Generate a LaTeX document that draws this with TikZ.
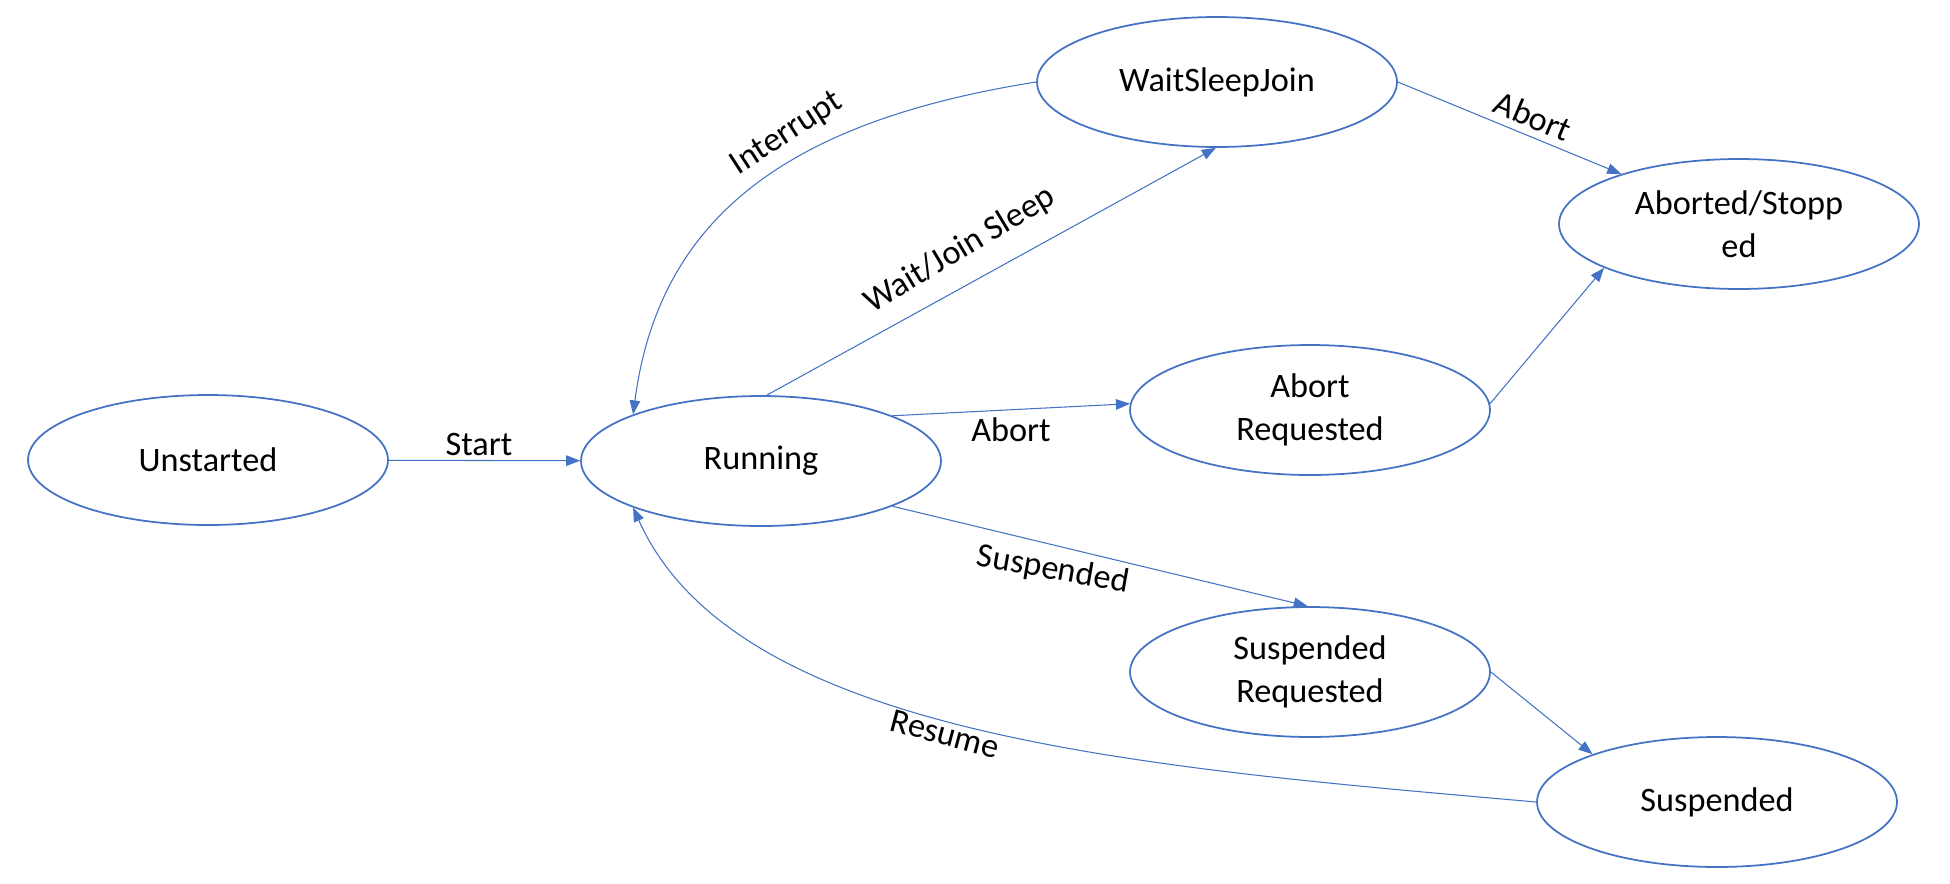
\documentclass[tikz,border=0pt]{standalone}
\usepackage{fontspec}
\setmainfont{Carlito}
\usetikzlibrary{shapes.geometric,arrows.meta}
\definecolor{stateblue}{RGB}{68,114,196}
\tikzset{
  state/.style={draw=stateblue, line width=1pt, ellipse, minimum width=7.2cm,
    minimum height=2.6cm, inner sep=0pt, align=center,
    font=\fontsize{19.5}{24.5}\selectfont},
  trans/.style={draw=stateblue, line width=0.6pt, -{Triangle[length=8pt,width=6pt]}},
  lbl/.style={font=\fontsize{19.5}{24.5}\selectfont, inner sep=0pt}
}
\begin{document}
\begin{tikzpicture}[x=0.02cm,y=-0.02cm]
\useasboundingbox (0,0) rectangle (1950,883);

\node[state] (unstarted) at (208,460) {Unstarted};
\node[state] (running) at (761,461) {Running};
\node[state] (wsj) at (1217,82) {WaitSleepJoin};
\node[state] (aborted) at (1739,224) {Aborted/Stopp\\ed};
\node[state] (abortreq) at (1310,410) {Abort\\Requested};
\node[state] (suspreq) at (1310,672) {Suspended\\Requested};
\node[state] (suspended) at (1717,802) {Suspended};

\path[trans] (unstarted) -- (running);
\path[trans] (running.85) -- (wsj.-91);
\path[trans] (wsj.180) .. controls +(-247,39) and +(26,-198) .. (running.160);
\path[trans] (wsj.0) -- (aborted.157);
\path[trans] (running.19) -- (abortreq.178);
\path[trans] (abortreq.2) -- (aborted.-162);
\path[trans] (running.-19) -- (suspreq.92);
\path[trans] (suspreq.0) -- (suspended.159);
\path[trans] (suspended.180) .. controls +(-398,-35) and +(102,228) .. (running.-160);

\node[lbl] (startlbl) at (479,444) {Start};
\node[lbl, rotate=33] (intlbl) at (787,134) {Interrupt};
\node[lbl, rotate=31] (waitlbl) at (960,250) {Wait/Join Sleep};
\node[lbl, rotate=-23] (abortlbl1) at (1533,116) {Abort};
\node[lbl] (abortlbl2) at (1011,430) {Abort};
\node[lbl, rotate=-10] (susplbl) at (1053,570) {Suspended};
\node[lbl, rotate=-15] (resumelbl) at (945,734) {Resume};
\end{tikzpicture}
\end{document}
